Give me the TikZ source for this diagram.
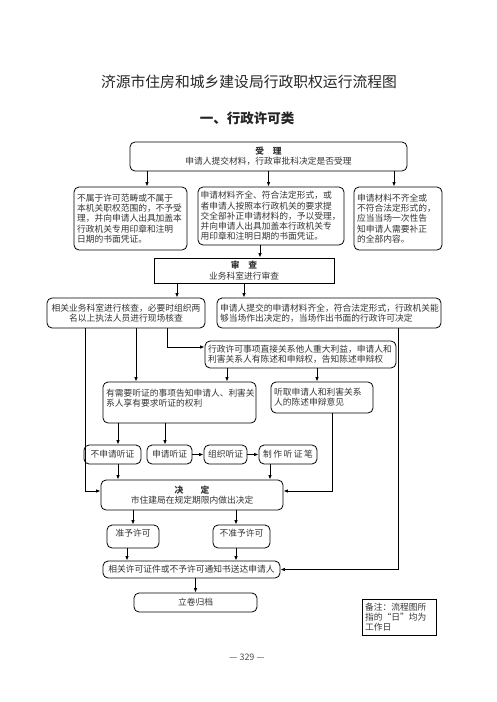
\documentclass[tikz,border=0pt]{standalone}
\usepackage{fontspec}
\newfontfamily\cjk{Noto Sans CJK SC}
\usetikzlibrary{positioning, arrows.meta}
\newcommand{\boxfont}{\cjk\fontsize{8.75}{10.2}\selectfont}
\tikzset{
  rbox/.style={draw, rounded corners=5pt, line width=0.8pt, inner xsep=3pt, inner ysep=1pt,
    font=\boxfont, text=black!80},
  sbox/.style={rbox, rounded corners=0pt},
  arr/.style={-{Latex[length=4.5pt,width=3.5pt]}, line width=0.9pt},
  link/.style={line width=0.9pt},
}

\begin{document}
\begin{tikzpicture}[x=1pt, y=-1pt]
    \useasboundingbox (0,0) rectangle (496,702);
    % titles
    \node[font=\cjk\fontsize{14.8}{16}\selectfont, text=black!85] (title) at (249,82)
      {济源市住房和城乡建设局行政职权运行流程图};
    \node[font=\cjk\bfseries\fontsize{13.5}{15}\selectfont, text=black!85] (sub) at (247,118)
      {一、行政许可类};
    % acceptance
    \node[rbox, minimum width=277pt, minimum height=29pt, align=center] (accept) at (268.5,156.5)
      {\textbf{受\quad 理}\\申请人提交材料，行政审批科决定是否受理};
    \node[rbox, text width=107pt, minimum height=63pt, align=left] (outside) at (130.5,218.5)
      {不属于许可范畴或不属于\\本机关职权范围的，不予受\\理，并向申请人出具加盖本\\行政机关专用印章和注明\\日期的书面凭证。};
    \node[rbox, text width=141pt, minimum height=58pt, align=left, inner xsep=2.5pt] (complete) at (271,216)
      {申请材料齐全、符合法定形式，或\\者申请人按照本行政机关的要求提\\交全部补正申请材料的，予以受理，\\并向申请人出具加盖本行政机关专\\用印章和注明日期的书面凭证。};
    \node[rbox, text width=82pt, minimum height=63pt, align=left] (lacking) at (398,218.5)
      {申请材料不齐全或\\不符合法定形式的，\\应当当场一次性告\\知申请人需要补正\\的全部内容。};
    % review
    \node[sbox, minimum width=180pt, minimum height=25pt, align=center] (review) at (244,270.5)
      {\textbf{审\quad 查}\\业务科室进行审查};
    \node[rbox, text width=152pt, minimum height=30pt, align=center] (verify) at (126,313)
      {相关业务科室进行核查，必要时组织两\\名以上执法人员进行现场核查};
    \node[rbox, text width=218pt, minimum height=30pt, align=left] (onsite) at (329,313)
      {申请人提交的申请材料齐全，符合法定形式，行政机关能\\够当场作出决定的，当场作出书面的行政许可决定};
    \node[rbox, text width=185pt, minimum height=27pt, align=left] (interest) at (300.5,354.5)
      {行政许可事项直接关系他人重大利益，申请人和\\利害关系人有陈述和申辩权，告知陈述申辩权};
    \node[rbox, text width=147pt, minimum height=41pt, align=left, text depth=20pt] (hearing) at (179.5,402.5)
      {有需要听证的事项告知申请人、利害关\\系人享有要求听证的权利};
    \node[rbox, text width=96pt, minimum height=31pt, align=left] (listen) at (322,397.5)
      {听取申请人和利害关系\\人的陈述申辩意见};
    % hearing steps
    \node[rbox, minimum width=57pt, minimum height=19pt, inner xsep=1pt] (nohear) at (112.5,454.5) {不申请听证};
    \node[rbox, minimum width=45pt, minimum height=19pt, inner xsep=1pt] (apply) at (169.5,454.5) {申请听证};
    \node[rbox, minimum width=43pt, minimum height=19pt, inner xsep=1pt] (organize) at (225.5,454.5) {组织听证};
    \node[rbox, minimum width=58pt, minimum height=19pt, inner xsep=1pt] (record) at (288,454.5) {制\,作\,听\,证\,笔};
    % decision
    \node[rbox, minimum width=182pt, minimum height=30pt, align=center] (decide) at (192,495)
      {\textbf{决\qquad 定}\\市住建局在规定期限内做出决定};
    \node[rbox, minimum width=52pt, minimum height=23pt, text depth=7pt] (grant) at (133,536.5) {准予许可};
    \node[rbox, minimum width=57pt, minimum height=23pt, text depth=7pt] (deny) at (241.5,536.5) {不准予许可};
    \node[rbox, minimum width=177pt, minimum height=17pt] (deliver) at (191.5,569.5)
      {相关许可证件或不予许可通知书送达申请人};
    \node[rbox, minimum width=123pt, minimum height=19pt] (archive) at (195.5,602.5) {立卷归档};
    \node[sbox, text width=68pt, minimum height=36pt, align=left] (note) at (399,617)
      {备注：流程图所\\指的“日”均为\\工作日};
    \node[font=\cjk\fontsize{9}{10}\selectfont, text=black!70] (page) at (247,657) {— 329 —};
    % connectors
    \draw[arr] ([xshift=16.5pt]outside.north |- accept.south) -- ([xshift=16.5pt]outside.north);
    \draw[arr] (accept.south) -- (accept.south |- complete.north);
    \draw[arr] ([xshift=-4pt]lacking.north |- accept.south) -- ([xshift=-4pt]lacking.north);
    \draw[arr] ([xshift=-11pt]complete.south) -- ([xshift=-11pt]complete.south |- review.north);
    \draw[arr] ([xshift=51pt]verify.north |- review.south) -- ([xshift=51pt]verify.north);
    \draw[arr] (review.south) -- (review.south |- onsite.north);
    \draw[arr] ([xshift=-41pt]verify.south) |- ([yshift=4pt]decide.west);
    \draw[arr] ([xshift=10pt]verify.south) -- ([xshift=10pt]verify.south |- hearing.north);
    \draw[arr] ([xshift=41pt]verify.south) |- ([yshift=7.5pt]interest.west);
    \draw[arr] ([xshift=69pt]onsite.south) |- (deliver.east);
    \draw[arr] ([xshift=-73.5pt]interest.south) -- ([xshift=-73.5pt]interest.south |- hearing.north);
    \draw[arr] ([xshift=16.5pt]interest.south) -- ([xshift=16.5pt]interest.south |- listen.north);
    \draw[arr] ([xshift=5.5pt]nohear.north |- hearing.south) -- ([xshift=5.5pt]nohear.north);
    \draw[arr] ([xshift=-4.5pt]apply.north |- hearing.south) -- ([xshift=-4.5pt]apply.north);
    \draw[arr] (apply) -- (organize);
    \draw[arr] (organize) -- (record);
    \draw[arr] ([xshift=5.5pt]nohear.south) -- ([xshift=5.5pt]nohear.south |- decide.north);
    \draw[arr] ([xshift=-18pt]record.south) -- ([xshift=-18pt]record.south |- decide.north);
    \draw[arr] ([xshift=10pt]listen.south) |- ([yshift=4pt]decide.east);
    \draw[arr] (grant.north |- decide.south) -- (grant.north);
    \draw[arr] ([xshift=-5.5pt]deny.north |- decide.south) -- ([xshift=-5.5pt]deny.north);
    \draw[arr] ([xshift=-6pt]grant.south) -- ([xshift=-6pt]grant.south |- deliver.north);
    \draw[arr] ([xshift=-5.5pt]deny.south) -- ([xshift=-5.5pt]deny.south |- deliver.north);
    \draw[arr] (archive.north |- deliver.south) -- (archive.north);
\end{tikzpicture}
\end{document}
